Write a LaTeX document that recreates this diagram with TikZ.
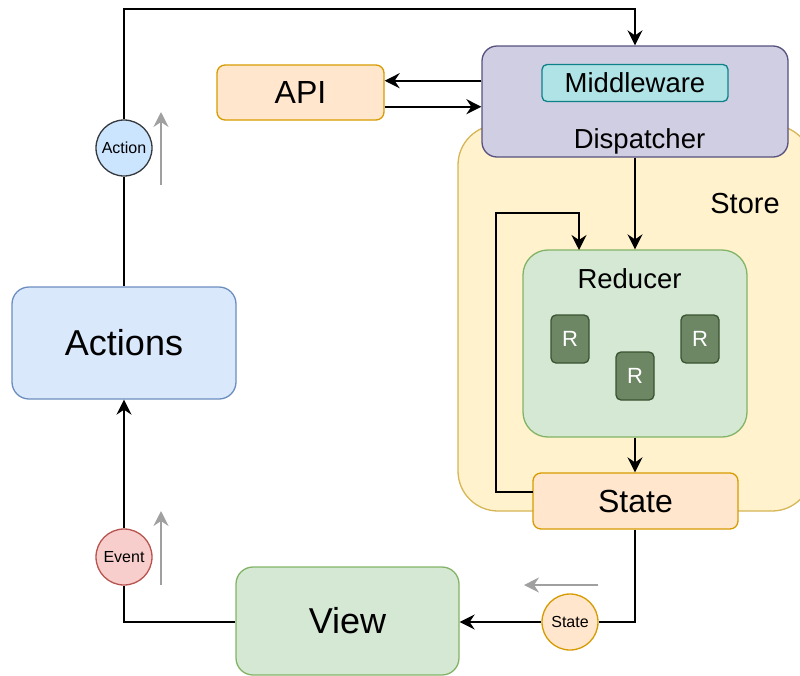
\documentclass[tikz,border=0pt]{standalone}
\usepackage{fontspec}
\setmainfont{Liberation Sans}
\usetikzlibrary{arrows.meta}
\definecolor{storefill}{HTML}{FFF2CC}
\definecolor{storeline}{HTML}{D6B656}
\definecolor{dispfill}{HTML}{D0CEE2}
\definecolor{displine}{HTML}{56517E}
\definecolor{mwfill}{HTML}{B0E3E6}
\definecolor{mwline}{HTML}{0E8088}
\definecolor{orfill}{HTML}{FFE6CC}
\definecolor{orline}{HTML}{D79B00}
\definecolor{blfill}{HTML}{DAE8FC}
\definecolor{blline}{HTML}{6C8EBF}
\definecolor{acfill}{HTML}{CCE5FF}
\definecolor{acline}{HTML}{36393D}
\definecolor{evfill}{HTML}{F8CECC}
\definecolor{evline}{HTML}{B85450}
\definecolor{grfill}{HTML}{D5E8D4}
\definecolor{grline}{HTML}{82B366}
\definecolor{rfill}{HTML}{6D8764}
\definecolor{rline}{HTML}{3A5431}
\definecolor{arrgray}{HTML}{A0A0A0}
\tikzset{
  blk/.style={draw, line width=1.3pt, inner sep=0pt, align=center},
  conn/.style={draw=black, line width=1.8pt},
  arr/.style={conn, -{Stealth[length=15pt,width=15pt,inset=5pt]}},
  garr/.style={draw=arrgray, line width=2pt, -{Stealth[length=15pt,width=15pt,inset=5pt]}},
  circ/.style={blk, circle, minimum size=56pt, font=\fontsize{16}{18}\selectfont},
  rbox/.style={blk, fill=rfill, draw=rline, rounded corners=5pt, minimum width=38pt, minimum height=48pt, text=white, font=\fontsize{22}{24}\selectfont},
}
\begin{document}
\begin{tikzpicture}[x=1pt,y=-1pt]
\useasboundingbox (0,0) rectangle (800,675);
\clip (0,0) rectangle (800,675);
% store container
\node[blk, fill=storefill, draw=storeline, rounded corners=40pt, minimum width=354pt, minimum height=386pt] (store) at (635,318) {};
\node[anchor=base, font=\fontsize{29}{32}\selectfont] (storelbl) at (745,213) {Store};
% dispatcher
\node[blk, fill=dispfill, draw=displine, rounded corners=15pt, minimum width=306pt, minimum height=111pt] (disp) at (635,101.5) {};
\node[blk, fill=mwfill, draw=mwline, rounded corners=5pt, minimum width=186pt, minimum height=37pt, font=\fontsize{27.5}{30}\selectfont] (mw) at (635,83) {Middleware};
\node[anchor=base, font=\fontsize{27.5}{30}\selectfont] (displbl) at (639.5,148) {Dispatcher};
% API
\node[blk, fill=orfill, draw=orline, rounded corners=8pt, minimum width=167pt, minimum height=55pt, font=\fontsize{32}{36}\selectfont] (api) at (300.5,92.5) {API};
% Actions
\node[blk, fill=blfill, draw=blline, rounded corners=17pt, minimum width=224pt, minimum height=112pt, font=\fontsize{36}{40}\selectfont] (actions) at (124,343) {Actions};
% circles
\node[circ, fill=acfill, draw=acline] (acirc) at (124,148) {Action};
\node[circ, fill=evfill, draw=evline] (ecirc) at (124,557) {Event};
\node[circ, fill=orfill, draw=orline] (scirc) at (570,622) {State};
% View
\node[blk, fill=grfill, draw=grline, rounded corners=17pt, minimum width=223pt, minimum height=108pt, font=\fontsize{36}{40}\selectfont] (view) at (347.5,621) {View};
% Reducer
\node[blk, fill=grfill, draw=grline, rounded corners=25pt, minimum width=224pt, minimum height=187pt] (reducer) at (635,343.5) {};
\node[anchor=base, font=\fontsize{27.5}{30}\selectfont] (redlbl) at (629.5,288.3) {Reducer};
\node[rbox] (r1) at (570,339) {R};
\node[rbox] (r2) at (635,376) {R};
\node[rbox] (r3) at (700,339) {R};
% State
\node[blk, fill=orfill, draw=orline, rounded corners=8pt, minimum width=205pt, minimum height=56pt, font=\fontsize{32}{36}\selectfont] (state) at (635.5,501) {State};
% coordinates
\coordinate (ttop) at (635,9);
\coordinate (yA) at (0,80.7);
\coordinate (yB) at (0,106.7);
\coordinate (yC) at (0,622);
\coordinate (l1) at (533,492);
\coordinate (l2) at (496,492);
\coordinate (l3) at (496,213);
\coordinate (l4) at (579,213);
\coordinate (l5) at (579,250);
% connectors
\draw[conn] (actions.north) -- (acirc.south);
\draw[arr] (acirc.north) |- (ttop) -- (disp.north);
\draw[arr] (disp.west |- yA) -- (api.east |- yA);
\draw[arr] (api.east |- yB) -- (disp.west |- yB);
\draw[arr] (disp.south) -- (reducer.north);
\draw[arr] (reducer.south) -- (state.north -| reducer.south);
\draw[arr] (l1) -- (l2) -- (l3) -- (l4) -- (l5);
\draw[conn] (state.south -| reducer.south) |- (scirc.east);
\draw[arr] (scirc.west) -- (view.east |- yC);
\draw[conn] (view.west |- yC) -| (ecirc.south);
\draw[arr] (ecirc.north) -- (actions.south);
% gray direction arrows
\coordinate (g1a) at (161,185);
\coordinate (g1b) at (161,112);
\coordinate (g2a) at (161,585);
\coordinate (g2b) at (161,511);
\coordinate (g3a) at (598,585);
\coordinate (g3b) at (524,585);
\draw[garr] (g1a) -- (g1b);
\draw[garr] (g2a) -- (g2b);
\draw[garr] (g3a) -- (g3b);
\end{tikzpicture}
\end{document}
